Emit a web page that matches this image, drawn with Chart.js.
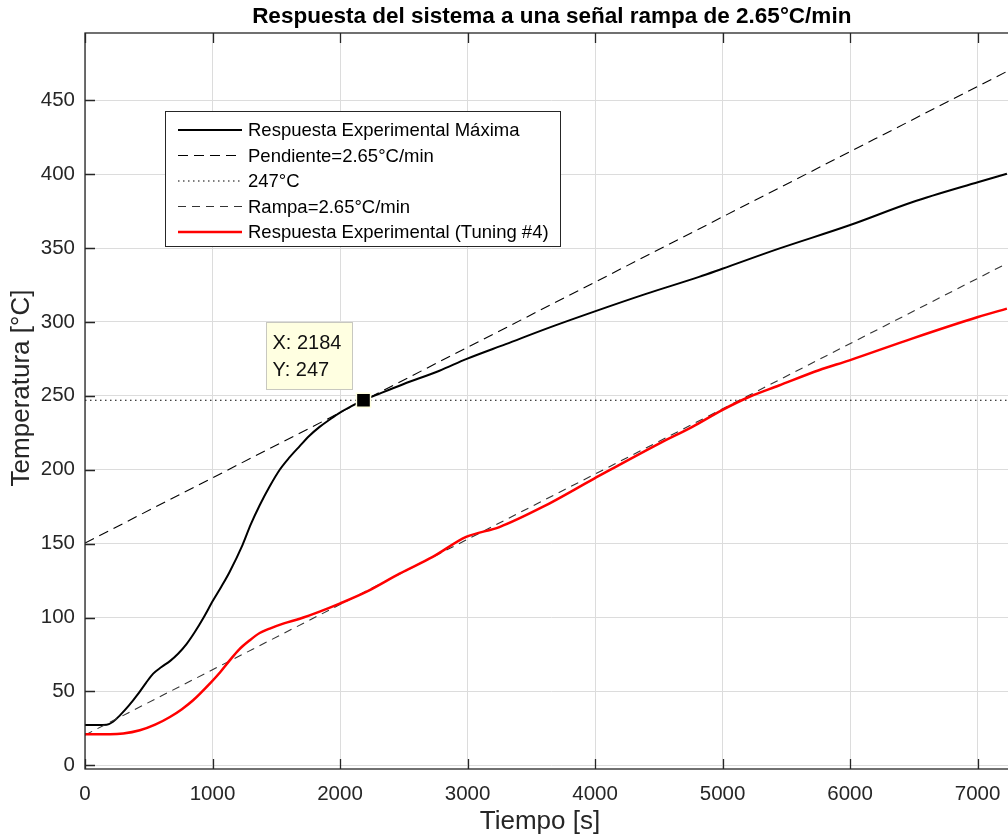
<!DOCTYPE html>
<html>
<head>
<meta charset="utf-8">
<script src="https://cdn.jsdelivr.net/npm/chart.js@4.4.1/dist/chart.umd.min.js"></script>
<style>
html, body { margin: 0; padding: 0; overflow: hidden; background: #fff; }
canvas { display: block; }
</style>
</head>
<body>
<canvas id="rampChart" width="1030" height="836"></canvas>
<script>
// Respuesta experimental máxima (s, °C)
const tMax = [0, 100, 170, 220, 274, 340, 418, 480, 535, 600, 666, 730, 796, 860, 927, 1005,
  1070, 1135, 1235, 1300, 1370, 1450, 1527, 1600, 1684, 1760, 1840, 1920, 1997, 2090, 2184,
  2311, 2500, 2780, 2994, 3300, 3667, 3993, 4400, 4816, 4998, 5442, 5995, 6486, 7008, 7230];
const vMax = [27.3, 27.3, 27.5, 29.5, 33.8, 40, 48.5, 56, 62, 66.5, 70.5, 75.5, 82, 90, 99.5, 111.6,
  121, 131, 149, 163, 176, 189, 200, 208, 216, 223, 229, 234, 238.5, 243, 247,
  251.5, 258, 267, 275, 285, 297, 307, 319, 330.5, 336, 349.6, 365.4, 381, 394.7, 400.3];

// Respuesta experimental con Tuning #4
const tTun = [0, 196, 300, 430, 550, 666, 760, 848, 979, 1060, 1135, 1210, 1292, 1370, 1449,
  1560, 1684, 1840, 1997, 2205, 2467, 2727, 2989, 3250, 3589, 3993, 4502, 4763, 4993, 5207,
  5442, 5755, 5995, 6486, 7003, 7230];
const vTun = [21, 21, 21.5, 23.7, 27.5, 32.7, 38, 44, 55.3, 63, 71, 78.5, 84.6, 89.5, 92.5,
  96, 99.2, 104, 109.4, 117.3, 129.7, 141, 154.5, 161.2, 174.8, 194, 217.7, 229, 240.2, 249.2,
  257, 267.3, 274, 288.7, 303.3, 309];

// rectas de referencia (extremos)
const tPend = [0, 7230];
const vPend = [150.4, 469.5];
const tRampa = [0, 7230];
const vRampa = [20.5, 339.6];
const tRef = [0, 7330];
const vRef = [247, 247];

// punto marcado
const tipX = [2184];
const tipY = [247];

const xTicks = [0, 1000, 2000, 3000, 4000, 5000, 6000, 7000];
const yTicks = [0, 50, 100, 150, 200, 250, 300, 350, 400, 450];

const pts = (xs, ys) => xs.map((x, i) => ({ x: x, y: ys[i] }));
const FONT = "'Liberation Sans', Arial, sans-serif";
const AXIS = '#262626';

// caja de ejes estilo MATLAB con marcas hacia dentro
const axesBox = {
  id: 'axesBox',
  afterDatasetsDraw(chart) {
    const { ctx, chartArea: a, scales } = chart;
    const len = 10;
    ctx.save();
    ctx.strokeStyle = AXIS;
    ctx.lineWidth = 1.3;
    ctx.strokeRect(a.left, a.top, a.right - a.left, a.bottom - a.top);
    ctx.beginPath();
    xTicks.forEach(v => {
      const px = Math.round(scales.x.getPixelForValue(v)) + 0.5;
      ctx.moveTo(px, a.bottom); ctx.lineTo(px, a.bottom - len);
      ctx.moveTo(px, a.top); ctx.lineTo(px, a.top + len);
    });
    yTicks.forEach(v => {
      const py = Math.round(scales.y.getPixelForValue(v)) + 0.5;
      ctx.moveTo(a.left, py); ctx.lineTo(a.left + len, py);
      ctx.moveTo(a.right, py); ctx.lineTo(a.right - len, py);
    });
    ctx.stroke();
    ctx.restore();
  }
};

// título y rótulos de los ejes
const axesText = {
  id: 'axesText',
  afterDraw(chart) {
    const { ctx, chartArea: a } = chart;
    ctx.save();
    ctx.textAlign = 'center';
    ctx.textBaseline = 'middle';
    ctx.fillStyle = '#000';
    ctx.font = "bold 22.5px " + FONT;
    ctx.fillText('Respuesta del sistema a una señal rampa de 2.65°C/min', (a.left + a.right) / 2, 17);
    ctx.fillStyle = AXIS;
    ctx.font = "26px " + FONT;
    ctx.fillText('Tiempo [s]', 540, 822);
    ctx.translate(22, 388);
    ctx.rotate(-Math.PI / 2);
    ctx.fillText('Temperatura [°C]', 0, 0);
    ctx.restore();
  }
};

// etiqueta del dato marcado
const dataTip = {
  id: 'dataTip',
  afterDraw(chart) {
    const { ctx, scales } = chart;
    const px = scales.x.getPixelForValue(tipX[0]);
    const py = scales.y.getPixelForValue(tipY[0]);
    const left = Math.round(px - 97) + 0.5, top = Math.round(py - 78) + 0.5;
    ctx.save();
    ctx.fillStyle = '#ffffe1';
    ctx.strokeStyle = '#c8c8c0';
    ctx.lineWidth = 1;
    ctx.fillRect(left, top, 86, 67);
    ctx.strokeRect(left, top, 86, 67);
    ctx.fillStyle = '#111';
    ctx.font = "20px " + FONT;
    ctx.textBaseline = 'middle';
    ctx.fillText('X: ' + tipX[0], left + 6, top + 21);
    ctx.fillText('Y: ' + tipY[0], left + 6, top + 48);
    ctx.restore();
  }
};

// leyenda dentro del área de trazado
const boxLegend = {
  id: 'boxLegend',
  afterDraw(chart) {
    const { ctx } = chart;
    const sets = chart.data.datasets.filter(d => d.inLegend);
    const x0 = 165.5, y0 = 111.5, w = 395, h = 135;
    ctx.save();
    ctx.fillStyle = '#fff';
    ctx.fillRect(x0, y0, w, h);
    ctx.strokeStyle = AXIS;
    ctx.lineWidth = 1;
    ctx.strokeRect(x0, y0, w, h);
    ctx.font = "18.5px " + FONT;
    ctx.textBaseline = 'middle';
    sets.forEach((d, i) => {
      const y = 130 + i * 25.5;
      ctx.beginPath();
      ctx.setLineDash(d.borderDash || []);
      ctx.strokeStyle = d.borderColor;
      ctx.lineWidth = d.borderWidth;
      ctx.moveTo(178, y);
      ctx.lineTo(242, y);
      ctx.stroke();
      ctx.setLineDash([]);
      ctx.fillStyle = '#000';
      ctx.fillText(d.label, 248, y + 1);
    });
    ctx.restore();
  }
};

const line = (label, xs, ys, color, width, dash, order) => ({
  label: label,
  data: pts(xs, ys),
  borderColor: color,
  borderWidth: width,
  borderDash: dash,
  pointRadius: 0,
  fill: false,
  cubicInterpolationMode: 'monotone',
  inLegend: true,
  order: order
});

new Chart(document.getElementById('rampChart'), {
  type: 'line',
  data: {
    datasets: [
      line('Respuesta Experimental Máxima', tMax, vMax, '#000', 2, [], 5),
      line('Pendiente=2.65°C/min', tPend, vPend, '#000', 1.1, [10, 6], 4),
      line('247°C', tRef, vRef, '#000', 1.2, [1.5, 3.5], 3),
      line('Rampa=2.65°C/min', tRampa, vRampa, '#333', 1.1, [8, 6], 2),
      line('Respuesta Experimental (Tuning #4)', tTun, vTun, '#ff0000', 2.5, [], 1),
      {
        label: 'punto',
        data: pts(tipX, tipY),
        showLine: false,
        pointStyle: 'rect',
        pointRadius: 10,
        backgroundColor: '#000',
        borderColor: '#ffffe1',
        borderWidth: 1.5,
        inLegend: false,
        order: 0
      }
    ]
  },
  options: {
    responsive: false,
    animation: false,
    layout: { padding: { top: 33, right: 10, left: 0, bottom: 0 } },
    plugins: {
      legend: { display: false },
      tooltip: { enabled: false },
      title: { display: false }
    },
    scales: {
      x: {
        type: 'linear',
        min: 0,
        max: 7321,
        afterFit: s => { s.height = 67; },
        afterBuildTicks: s => { s.ticks = xTicks.map(v => ({ value: v })); },
        grid: { color: '#dcdcdc', lineWidth: 1, drawTicks: false },
        border: { display: false },
        ticks: {
          color: '#262626', padding: 13, maxRotation: 0,
          font: { family: FONT, size: 20.5 },
          callback: v => String(v)
        }
      },
      y: {
        min: -2.5,
        max: 495.5,
        afterFit: s => { s.width = 85; },
        afterBuildTicks: s => { s.ticks = yTicks.map(v => ({ value: v })); },
        grid: { color: '#dcdcdc', lineWidth: 1, drawTicks: false },
        border: { display: false },
        ticks: {
          color: '#262626', padding: 10,
          font: { family: FONT, size: 20.5 },
          callback: v => String(v)
        }
      }
    }
  },
  plugins: [axesBox, axesText, dataTip, boxLegend]
});
</script>
</body>
</html>
